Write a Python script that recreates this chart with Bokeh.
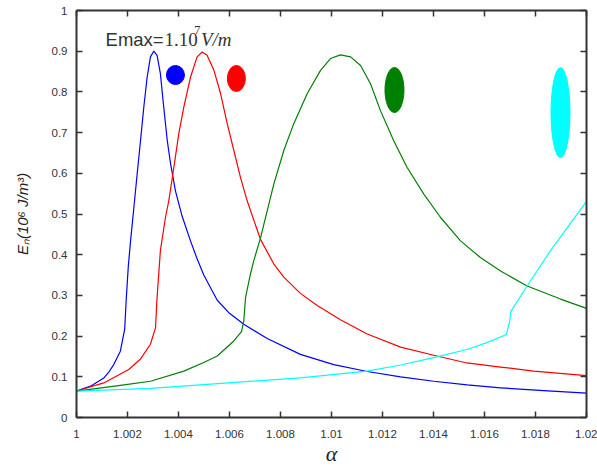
from bokeh.plotting import figure
from bokeh.models import FixedTicker, CustomJSTickFormatter, LinearAxis, Label, Range1d
from bokeh.embed import file_html
from bokeh.resources import INLINE

# ---- data ----
alpha_blue = [1.0, 1.00055, 1.00107, 1.00125, 1.00146, 1.00172, 1.00189, 1.00195, 1.00203,
              1.00212, 1.00225, 1.00238, 1.00251, 1.00264, 1.00277, 1.0029, 1.00303, 1.00316,
              1.00329, 1.00342, 1.00356, 1.00369, 1.00388, 1.00414, 1.00447, 1.00473, 1.00499,
              1.00552, 1.006, 1.00656, 1.00748, 1.00878, 1.01009, 1.0114, 1.01271, 1.01401,
              1.01532, 1.01663, 1.01832, 1.02]
En_blue = [0.065, 0.077, 0.097, 0.11, 0.13, 0.163, 0.217, 0.29, 0.37,
           0.434, 0.516, 0.599, 0.68, 0.763, 0.836, 0.886, 0.9, 0.89,
           0.845, 0.763, 0.68, 0.623, 0.557, 0.495, 0.434, 0.39, 0.35,
           0.288, 0.256, 0.229, 0.194, 0.155, 0.13, 0.113, 0.1, 0.089,
           0.08, 0.073, 0.066, 0.06]

alpha_red = [1.0, 1.00107, 1.00205, 1.0025, 1.0029, 1.0031, 1.00315, 1.00329, 1.00349,
             1.00362, 1.00382, 1.00401, 1.00421, 1.00447, 1.00473, 1.00493, 1.00512, 1.00539,
             1.00565, 1.00591, 1.00617, 1.00643, 1.00669, 1.00709, 1.00722, 1.00774, 1.00813,
             1.00878, 1.00944, 1.01035, 1.0114, 1.01271, 1.01401, 1.01531, 1.01663, 1.01793,
             1.02]
En_red = [0.065, 0.085, 0.118, 0.143, 0.18, 0.221, 0.286, 0.41, 0.492,
          0.533, 0.615, 0.697, 0.763, 0.836, 0.886, 0.898, 0.89, 0.853,
          0.796, 0.722, 0.656, 0.59, 0.533, 0.46, 0.437, 0.377, 0.345,
          0.305, 0.275, 0.24, 0.205, 0.173, 0.153, 0.134, 0.124, 0.114,
          0.103]

alpha_green = [1.0, 1.00172, 1.0029, 1.00421, 1.00499, 1.00552, 1.00617, 1.00647, 1.00656,
               1.00663, 1.00682, 1.00695, 1.00722, 1.00735, 1.00774, 1.00813, 1.00852, 1.00905,
               1.00957, 1.00996, 1.01035, 1.01075, 1.01114, 1.01153, 1.01192, 1.01244, 1.01296,
               1.01362, 1.01427, 1.01506, 1.01584, 1.01663, 1.01767, 1.01898, 1.02]
En_green = [0.065, 0.079, 0.089, 0.114, 0.135, 0.151, 0.188, 0.211, 0.237,
            0.295, 0.352, 0.385, 0.442, 0.475, 0.574, 0.656, 0.722, 0.796,
            0.853, 0.882, 0.891, 0.886, 0.865, 0.82, 0.754, 0.68, 0.615,
            0.549, 0.492, 0.434, 0.393, 0.36, 0.323, 0.291, 0.268]

alpha_cyan = [1.0, 1.0029, 1.00499, 1.00878, 1.0114, 1.01271, 1.01401, 1.01531, 1.01609,
              1.01686, 1.01699, 1.01703, 1.01767, 1.01859, 1.02]
En_cyan = [0.065, 0.0715, 0.081, 0.0975, 0.114, 0.129, 0.147, 0.167, 0.184,
           0.204, 0.237, 0.26, 0.323, 0.41, 0.531]

marker_alpha = [1.00388, 1.00627, 1.01247, 1.01898]
marker_En = [0.8415, 0.833, 0.8047, 0.749]

x_ticks = [1.0, 1.002, 1.004, 1.006, 1.008, 1.01, 1.012, 1.014, 1.016, 1.018, 1.02]
y_ticks = [0.0, 0.1, 0.2, 0.3, 0.4, 0.5, 0.6, 0.7, 0.8, 0.9, 1.0]

# ---- styles ----
series_colors = ["#0000ff", "#ff0000", "#008000", "#00ffff"]
marker_w_px = [18, 18, 19, 19]
marker_h_px = [19, 26, 45, 90]
AX = "#333333"
TXT = "#333333"

p = figure(width=597, height=468, output_backend="svg", toolbar_location=None,
           x_range=Range1d(1.0, 1.02), y_range=Range1d(0.0, 1.0),
           min_border_left=76, min_border_right=11, min_border_top=10, min_border_bottom=51,
           x_axis_label="α", y_axis_label="Eₙ(10⁶ J/m³)")
p.grid.visible = False
p.outline_line_color = None
p.background_fill_color = "white"
p.border_fill_color = "white"

fmt = CustomJSTickFormatter(code="return String(parseFloat(tick.toFixed(4)));")
blank = CustomJSTickFormatter(code="return '';")

for ax, ticks in ((p.xaxis[0], x_ticks), (p.yaxis[0], y_ticks)):
    ax.ticker = FixedTicker(ticks=ticks)
    ax.formatter = fmt
    ax.major_tick_in = 6
    ax.major_tick_out = 0
    ax.minor_tick_line_color = None
    ax.axis_line_width = 2
    ax.axis_line_color = AX
    ax.major_tick_line_color = AX
    ax.major_tick_line_width = 1.5
    ax.major_label_text_font = "Liberation Sans"
    ax.major_label_text_font_size = "11.5px"
    ax.major_label_text_color = TXT

p.xaxis[0].major_label_standoff = 12
p.xaxis[0].axis_label_standoff = 0
p.xaxis[0].axis_label_text_font = "Liberation Serif"
p.xaxis[0].axis_label_text_font_style = "italic"
p.xaxis[0].axis_label_text_font_size = "22px"
p.xaxis[0].axis_label_text_color = "#222222"

p.yaxis[0].major_label_standoff = 9
p.yaxis[0].axis_label_standoff = 18
p.yaxis[0].axis_label_text_font = "Liberation Sans"
p.yaxis[0].axis_label_text_font_style = "italic"
p.yaxis[0].axis_label_text_font_size = "15px"
p.yaxis[0].axis_label_text_color = "#222222"

for loc, ticks in (("above", x_ticks), ("right", y_ticks)):
    ax = LinearAxis(ticker=FixedTicker(ticks=ticks), formatter=blank,
                    major_tick_in=6, major_tick_out=0, minor_tick_line_color=None,
                    axis_line_width=2, axis_line_color=AX, major_tick_line_color=AX,
                    major_tick_line_width=1.5, major_label_text_font_size="0px",
                    major_label_standoff=0)
    p.add_layout(ax, loc)

for xs, ys, c in ((alpha_blue, En_blue, series_colors[0]),
                  (alpha_red, En_red, series_colors[1]),
                  (alpha_green, En_green, series_colors[2]),
                  (alpha_cyan, En_cyan, series_colors[3])):
    p.line(xs, ys, line_color=c, line_width=1.2, line_join="round")

p.ellipse(x=marker_alpha, y=marker_En, width=marker_w_px, height=marker_h_px,
          width_units="screen", height_units="screen",
          fill_color=series_colors, line_color=series_colors)

# annotation "Emax=1.10^7 V/m"
p.add_layout(Label(x=1.00114, y=0.9286, text="Emax=", text_font="Liberation Sans",
                   text_font_size="18.5px", text_color=TXT, text_baseline="alphabetic"))
p.add_layout(Label(x=1.00345, y=0.9286, text="1.10", text_font="Liberation Serif",
                   text_font_size="19px", text_color=TXT, text_baseline="alphabetic"))
p.add_layout(Label(x=1.00462, y=0.951, text="7", text_font="Liberation Serif",
                   text_font_size="12.5px", text_color=TXT, text_baseline="alphabetic"))
p.add_layout(Label(x=1.00488, y=0.9286, text="V/m", text_font="Liberation Serif",
                   text_font_style="italic", text_font_size="19px", text_color=TXT,
                   text_baseline="alphabetic"))

open("out.html", "w").write(file_html(p, INLINE))
